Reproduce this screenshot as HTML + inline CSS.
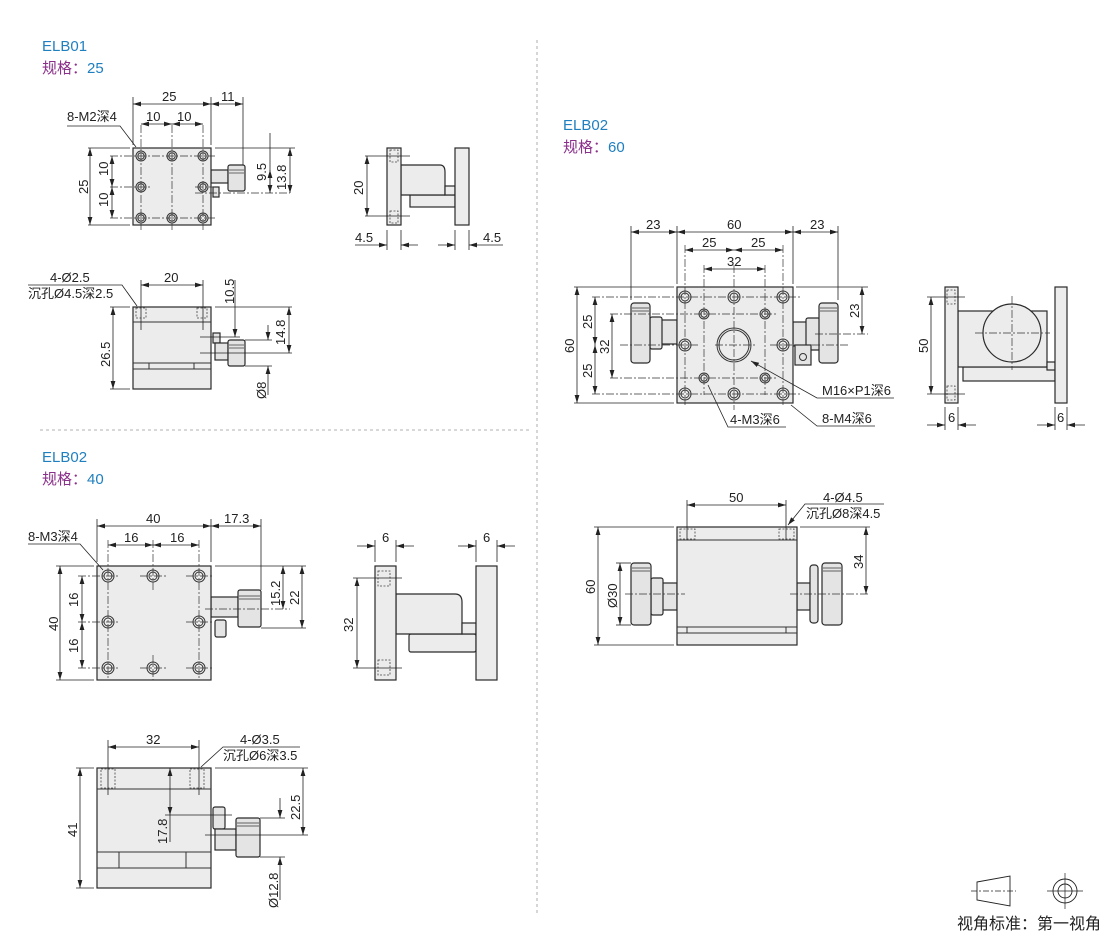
<!DOCTYPE html>
<html><head><meta charset="utf-8"><style>
html,body{margin:0;padding:0;background:#fff}
svg{display:block}
text{font-family:"Liberation Sans","Noto Sans CJK SC",sans-serif;fill:#222;font-size:13px}
.b{fill:#ececec;stroke:#2a2a2a;stroke-width:1.2}
.k{fill:#e4e4e4;stroke:#2a2a2a;stroke-width:1.2}
.d{stroke:#222;stroke-width:0.8;fill:none}
.a{stroke:#222;stroke-width:0.8;fill:none;marker-start:url(#ar);marker-end:url(#ar)}
.c{stroke:#333;stroke-width:0.7;fill:none}
.h{fill:none;stroke:#333;stroke-width:1}
.dot{fill:none;stroke:#444;stroke-width:0.8;stroke-dasharray:2 1.5}
.t1{fill:#1f7fbf;font-size:15px}
.t2{fill:#8a2f8a;font-size:15px}
</style></head><body>
<svg width="1110" height="933" viewBox="0 0 1110 933" xmlns="http://www.w3.org/2000/svg">
<defs>
<marker id="ar" viewBox="0 0 10 6" refX="10" refY="3" markerWidth="8" markerHeight="5" orient="auto-start-reverse" markerUnits="userSpaceOnUse"><path d="M0,0 L10,3 L0,6 z" fill="#222"/></marker>
<g id="hole"><circle r="5" class="h"/><circle r="3.2" class="h"/></g>
<g id="hole2"><circle r="6" class="h"/><circle r="4" class="h"/></g>
</defs>

<line x1="40" y1="430" x2="530" y2="430" stroke="#999" stroke-dasharray="3 3" stroke-width="0.8"/>
<line x1="537" y1="40" x2="537" y2="915" stroke="#999" stroke-dasharray="3 3" stroke-width="0.8"/>

<text x="42" y="51" class="t1">ELB01</text>
<text x="42" y="73" class="t2">规格：<tspan fill="#1f7fbf">25</tspan></text>
<text x="42" y="462" class="t1">ELB02</text>
<text x="42" y="484" class="t2">规格：<tspan fill="#1f7fbf">40</tspan></text>
<text x="563" y="130" class="t1">ELB02</text>
<text x="563" y="152" class="t2">规格：<tspan fill="#1f7fbf">60</tspan></text>

<!-- ELB01 top -->
<rect class="k" x="211" y="170" width="17" height="13"/>
<rect class="k" x="228" y="165" width="17" height="26" rx="2"/>
<line class="c" x1="229" y1="170" x2="244" y2="170"/><line class="c" x1="229" y1="173" x2="244" y2="173"/>
<rect class="k" x="213" y="187" width="6" height="10"/>
<rect class="b" x="133" y="148" width="78" height="77"/>
<use href="#hole" x="141" y="156"/><use href="#hole" x="172" y="156"/><use href="#hole" x="203" y="156"/>
<use href="#hole" x="141" y="187"/><use href="#hole" x="203" y="187"/>
<use href="#hole" x="141" y="218"/><use href="#hole" x="172" y="218"/><use href="#hole" x="203" y="218"/>
<g class="c" stroke-dasharray="8 2 2 2">
<line x1="110" y1="156" x2="215" y2="156"/><line x1="110" y1="187" x2="150" y2="187"/><line x1="110" y1="218" x2="215" y2="218"/>
<line x1="141" y1="125" x2="141" y2="230"/><line x1="172" y1="125" x2="172" y2="230"/><line x1="203" y1="125" x2="203" y2="230"/>
<line x1="195" y1="193" x2="290" y2="193"/><line x1="195" y1="187" x2="215" y2="187"/>
</g>
<g class="d"><line x1="133" y1="97" x2="133" y2="145"/><line x1="211" y1="97" x2="211" y2="145"/><line x1="243" y1="97" x2="243" y2="165"/>
<line x1="88" y1="148" x2="130" y2="148"/><line x1="88" y1="225" x2="130" y2="225"/><line x1="215" y1="148" x2="295" y2="148"/>
<polyline points="67,126 120,126 136,147"/></g>
<line class="a" x1="133" y1="104" x2="211" y2="104"/><line class="a" x1="211" y1="104" x2="243" y2="104"/>
<line class="a" x1="141" y1="124" x2="172" y2="124"/><line class="a" x1="172" y1="124" x2="203" y2="124"/>
<line class="a" x1="90" y1="148" x2="90" y2="225"/>
<line class="a" x1="112" y1="156" x2="112" y2="187"/><line class="a" x1="112" y1="187" x2="112" y2="218"/>
<line class="d" x1="270" y1="133" x2="270" y2="193"/><line class="a" x1="270" y1="170" x2="270" y2="193"/>
<line class="a" x1="290" y1="148" x2="290" y2="193"/>
<text x="162" y="101">25</text><text x="221" y="101">11</text>
<text x="146" y="121">10</text><text x="177" y="121">10</text>
<text x="67" y="121">8-M2深4</text>
<text transform="translate(88,194) rotate(-90)">25</text>
<text transform="translate(108,176) rotate(-90)">10</text><text transform="translate(108,207) rotate(-90)">10</text>
<text transform="translate(266,181) rotate(-90)">9.5</text>
<text transform="translate(286,190) rotate(-90)">13.8</text>

<!-- ELB01 side -->
<rect class="b" x="410" y="195" width="45" height="12"/>
<path class="b" d="M401,165 L440,165 Q445,165 445,172 L445,195 L401,195 Z"/>
<rect class="b" x="445" y="186" width="10" height="9"/>
<rect class="b" x="387" y="148" width="14" height="77"/>
<rect class="b" x="455" y="148" width="14" height="77"/>
<rect class="dot" x="390" y="150" width="8" height="12"/><rect class="dot" x="390" y="211" width="8" height="12"/>
<g class="d"><line x1="365" y1="156" x2="410" y2="156"/><line x1="365" y1="216" x2="410" y2="216"/>
<line x1="387" y1="230" x2="387" y2="250"/><line x1="401" y1="230" x2="401" y2="250"/>
<line x1="455" y1="230" x2="455" y2="250"/><line x1="469" y1="230" x2="469" y2="250"/>
<line x1="355" y1="245" x2="387" y2="245" marker-end="url(#ar)"/><line x1="418" y1="245" x2="401" y2="245" marker-end="url(#ar)"/>
<line x1="438" y1="245" x2="455" y2="245" marker-end="url(#ar)"/><line x1="503" y1="245" x2="469" y2="245" marker-end="url(#ar)"/></g>
<line class="a" x1="367" y1="156" x2="367" y2="216"/>
<text transform="translate(363,195) rotate(-90)">20</text>
<text x="355" y="242">4.5</text><text x="483" y="242">4.5</text>

<!-- ELB01 front -->
<rect class="k" x="213" y="333" width="7" height="10"/>
<rect class="k" x="215" y="343" width="13" height="17"/>
<rect class="k" x="228" y="340" width="17" height="26" rx="2"/>
<line class="c" x1="229" y1="345" x2="244" y2="345"/><line class="c" x1="229" y1="348" x2="244" y2="348"/>
<rect class="b" x="133" y="307" width="78" height="82"/>
<line class="h" x1="133" y1="322" x2="211" y2="322"/>
<line class="h" x1="133" y1="363" x2="211" y2="363"/><line class="h" x1="133" y1="369" x2="211" y2="369"/>
<line class="h" x1="149" y1="363" x2="149" y2="369"/><line class="h" x1="194" y1="363" x2="194" y2="369"/>
<rect class="dot" x="136" y="308" width="10" height="10"/><rect class="dot" x="197" y="308" width="10" height="10"/>
<g class="d"><line x1="141" y1="280" x2="141" y2="330"/><line x1="203" y1="280" x2="203" y2="330"/>
<line x1="110" y1="307" x2="130" y2="307"/><line x1="110" y1="389" x2="130" y2="389"/><line x1="215" y1="307" x2="292" y2="307"/>
<line x1="200" y1="337" x2="240" y2="337"/><line x1="200" y1="353" x2="292" y2="353"/><line x1="245" y1="340" x2="272" y2="340"/><line x1="245" y1="366" x2="272" y2="366"/>
<polyline points="28,285 122,285 137,306"/>
<line x1="235" y1="280" x2="235" y2="337" marker-end="url(#ar)"/>
<line x1="268" y1="325" x2="268" y2="340" marker-end="url(#ar)"/><line x1="268" y1="395" x2="268" y2="366" marker-end="url(#ar)"/></g>
<line class="a" x1="141" y1="285" x2="203" y2="285"/>
<line class="a" x1="113" y1="307" x2="113" y2="389"/>
<line class="a" x1="289" y1="307" x2="289" y2="353"/>
<text x="164" y="282">20</text>
<text x="50" y="282">4-Ø2.5</text><text x="28" y="298">沉孔Ø4.5深2.5</text>
<text transform="translate(110,367) rotate(-90)">26.5</text>
<text transform="translate(234,304) rotate(-90)">10.5</text>
<text transform="translate(285,345) rotate(-90)">14.8</text>
<text transform="translate(266,399) rotate(-90)">Ø8</text>

<!-- ELB02-40 top -->
<rect class="k" x="211" y="597" width="27" height="20"/>
<rect class="k" x="238" y="590" width="23" height="37" rx="2"/>
<line class="c" x1="239" y1="596" x2="260" y2="596"/><line class="c" x1="239" y1="599" x2="260" y2="599"/>
<rect class="k" x="215" y="620" width="11" height="17" rx="2"/>
<rect class="b" x="97" y="566" width="114" height="114"/>
<use href="#hole2" x="108" y="576"/><use href="#hole2" x="153" y="576"/><use href="#hole2" x="199" y="576"/>
<use href="#hole2" x="108" y="622"/><use href="#hole2" x="199" y="622"/>
<use href="#hole2" x="108" y="668"/><use href="#hole2" x="153" y="668"/><use href="#hole2" x="199" y="668"/>
<g class="c" stroke-dasharray="8 2 2 2">
<line x1="78" y1="576" x2="120" y2="576"/><line x1="140" y1="576" x2="166" y2="576"/><line x1="186" y1="576" x2="212" y2="576"/>
<line x1="78" y1="622" x2="120" y2="622"/><line x1="186" y1="622" x2="212" y2="622"/>
<line x1="78" y1="668" x2="120" y2="668"/><line x1="140" y1="668" x2="166" y2="668"/><line x1="186" y1="668" x2="212" y2="668"/>
<line x1="108" y1="540" x2="108" y2="680"/><line x1="153" y1="540" x2="153" y2="590"/><line x1="153" y1="655" x2="153" y2="680"/><line x1="199" y1="540" x2="199" y2="680"/>
<line x1="205" y1="609" x2="290" y2="609"/></g>
<g class="d"><line x1="97" y1="519" x2="97" y2="562"/><line x1="211" y1="519" x2="211" y2="562"/><line x1="261" y1="519" x2="261" y2="590"/>
<line x1="56" y1="566" x2="94" y2="566"/><line x1="56" y1="680" x2="94" y2="680"/><line x1="215" y1="566" x2="306" y2="566"/><line x1="261" y1="628" x2="306" y2="628"/>
<polyline points="28,544 80,544 103,570"/></g>
<line class="a" x1="97" y1="526" x2="211" y2="526"/><line class="a" x1="211" y1="526" x2="261" y2="526"/>
<line class="a" x1="108" y1="545" x2="153" y2="545"/><line class="a" x1="153" y1="545" x2="199" y2="545"/>
<line class="a" x1="60" y1="566" x2="60" y2="680"/>
<line class="a" x1="82" y1="576" x2="82" y2="622"/><line class="a" x1="82" y1="622" x2="82" y2="668"/>
<line class="a" x1="283" y1="566" x2="283" y2="609"/><line class="a" x1="302" y1="566" x2="302" y2="628"/>
<text x="146" y="523">40</text><text x="224" y="523">17.3</text>
<text x="124" y="542">16</text><text x="170" y="542">16</text>
<text x="28" y="541">8-M3深4</text>
<text transform="translate(58,631) rotate(-90)">40</text>
<text transform="translate(78,607) rotate(-90)">16</text><text transform="translate(78,653) rotate(-90)">16</text>
<text transform="translate(280,606) rotate(-90)">15.2</text>
<text transform="translate(299,605) rotate(-90)">22</text>

<!-- ELB02-40 side -->
<rect class="b" x="409" y="634" width="67" height="18" rx="2"/>
<path class="b" d="M396,594 L455,594 Q462,594 462,602 L462,634 L396,634 Z"/>
<rect class="b" x="462" y="623" width="14" height="11"/>
<rect class="b" x="375" y="566" width="21" height="114"/>
<rect class="b" x="476" y="566" width="21" height="114"/>
<rect class="dot" x="378" y="571" width="12" height="15"/><rect class="dot" x="378" y="660" width="12" height="15"/>
<g class="d"><line x1="353" y1="578" x2="402" y2="578"/><line x1="353" y1="668" x2="402" y2="668"/>
<line x1="375" y1="540" x2="375" y2="562"/><line x1="396" y1="540" x2="396" y2="562"/>
<line x1="476" y1="540" x2="476" y2="562"/><line x1="497" y1="540" x2="497" y2="562"/>
<line x1="357" y1="546" x2="375" y2="546" marker-end="url(#ar)"/><line x1="414" y1="546" x2="396" y2="546" marker-end="url(#ar)"/>
<line x1="458" y1="546" x2="476" y2="546" marker-end="url(#ar)"/><line x1="515" y1="546" x2="497" y2="546" marker-end="url(#ar)"/></g>
<line class="a" x1="357" y1="578" x2="357" y2="668"/>
<text transform="translate(353,632) rotate(-90)">32</text>
<text x="382" y="542">6</text><text x="483" y="542">6</text>

<!-- ELB02-40 front -->
<rect class="k" x="213" y="807" width="12" height="22" rx="2"/>
<rect class="k" x="215" y="829" width="21" height="21"/>
<rect class="k" x="236" y="818" width="24" height="39" rx="2"/>
<line class="c" x1="237" y1="823" x2="259" y2="823"/><line class="c" x1="237" y1="826" x2="259" y2="826"/>
<rect class="b" x="97" y="768" width="114" height="120"/>
<line class="h" x1="97" y1="789" x2="211" y2="789"/>
<line class="h" x1="97" y1="852" x2="211" y2="852"/><line class="h" x1="97" y1="868" x2="211" y2="868"/>
<line class="h" x1="119" y1="852" x2="119" y2="868"/><line class="h" x1="186" y1="852" x2="186" y2="868"/>
<rect class="dot" x="101" y="769" width="14" height="19"/><rect class="dot" x="190" y="769" width="14" height="19"/>
<g class="d"><line x1="108" y1="740" x2="108" y2="795"/><line x1="199" y1="740" x2="199" y2="795"/>
<line x1="76" y1="768" x2="94" y2="768"/><line x1="76" y1="888" x2="94" y2="888"/><line x1="215" y1="768" x2="308" y2="768"/>
<line x1="165" y1="815" x2="232" y2="815"/><line x1="205" y1="835" x2="308" y2="835"/><line x1="260" y1="818" x2="285" y2="818"/><line x1="260" y1="857" x2="285" y2="857"/>
<line x1="170" y1="842" x2="170" y2="815"/>
<polyline points="300,747 223,747 201,767"/>
<line x1="280" y1="798" x2="280" y2="818" marker-end="url(#ar)"/><line x1="280" y1="900" x2="280" y2="857" marker-end="url(#ar)"/></g>
<line class="a" x1="108" y1="747" x2="199" y2="747"/>
<line class="a" x1="80" y1="768" x2="80" y2="888"/>
<line class="a" x1="170" y1="768" x2="170" y2="815"/>
<line class="a" x1="303" y1="768" x2="303" y2="835"/>
<text x="146" y="744">32</text>
<text x="240" y="744">4-Ø3.5</text><text x="223" y="760">沉孔Ø6深3.5</text>
<text transform="translate(77,837) rotate(-90)">41</text>
<text transform="translate(167,844) rotate(-90)">17.8</text>
<text transform="translate(300,820) rotate(-90)">22.5</text>
<text transform="translate(278,908) rotate(-90)">Ø12.8</text>

<!-- ELB02-60 top -->
<rect class="k" x="660" y="320" width="17" height="24"/>
<rect class="k" x="650" y="317" width="12" height="32" rx="2"/>
<rect class="k" x="631" y="303" width="19" height="60" rx="3"/>
<line class="c" x1="632" y1="308" x2="649" y2="308"/><line class="c" x1="632" y1="311" x2="649" y2="311"/>
<rect class="k" x="793" y="322" width="14" height="24"/>
<rect class="k" x="806" y="318" width="14" height="32" rx="2"/>
<rect class="k" x="819" y="303" width="19" height="60" rx="3"/>
<line class="c" x1="820" y1="308" x2="837" y2="308"/><line class="c" x1="820" y1="311" x2="837" y2="311"/>
<rect class="k" x="795" y="345" width="16" height="20"/><circle cx="803" cy="357" r="3.5" class="h"/>
<rect class="b" x="677" y="287" width="116" height="116"/>
<use href="#hole2" x="685" y="297"/><use href="#hole2" x="734" y="297"/><use href="#hole2" x="783" y="297"/>
<use href="#hole2" x="685" y="345"/><use href="#hole2" x="783" y="345"/>
<use href="#hole2" x="685" y="394"/><use href="#hole2" x="734" y="394"/><use href="#hole2" x="783" y="394"/>
<use href="#hole" x="704" y="314"/><use href="#hole" x="765" y="314"/><use href="#hole" x="704" y="378"/><use href="#hole" x="765" y="378"/>
<circle cx="734" cy="345" r="17" class="h" stroke-width="1.2"/><circle cx="734" cy="345" r="15" class="h"/>
<g class="c" stroke-dasharray="8 2 2 2">
<line x1="620" y1="345" x2="700" y2="345"/><line x1="715" y1="345" x2="755" y2="345"/><line x1="770" y1="345" x2="850" y2="345"/>
<line x1="734" y1="265" x2="734" y2="410"/><line x1="685" y1="245" x2="685" y2="405"/><line x1="783" y1="245" x2="783" y2="405"/>
<line x1="704" y1="265" x2="704" y2="395"/><line x1="765" y1="265" x2="765" y2="395"/>
<line x1="592" y1="297" x2="800" y2="297"/><line x1="592" y1="394" x2="800" y2="394"/>
<line x1="610" y1="314" x2="778" y2="314"/><line x1="610" y1="378" x2="778" y2="378"/>
<line x1="815" y1="334" x2="868" y2="334"/></g>
<g class="d"><line x1="631" y1="226" x2="631" y2="300"/><line x1="677" y1="226" x2="677" y2="284"/><line x1="793" y1="226" x2="793" y2="284"/><line x1="838" y1="226" x2="838" y2="300"/>
<line x1="574" y1="287" x2="674" y2="287"/><line x1="574" y1="403" x2="674" y2="403"/><line x1="796" y1="287" x2="868" y2="287"/>
<polyline points="894,398 817,398 751,361" marker-end="url(#ar)"/>
<polyline points="875,426 817,426 791,405"/>
<polyline points="786,427 728,427 708,385"/></g>
<line class="a" x1="631" y1="232" x2="677" y2="232"/><line class="a" x1="677" y1="232" x2="793" y2="232"/><line class="a" x1="793" y1="232" x2="838" y2="232"/>
<line class="a" x1="685" y1="250" x2="734" y2="250"/><line class="a" x1="734" y1="250" x2="783" y2="250"/>
<line class="a" x1="704" y1="269" x2="765" y2="269"/>
<line class="a" x1="577" y1="287" x2="577" y2="403"/>
<line class="a" x1="595" y1="297" x2="595" y2="345"/><line class="a" x1="595" y1="345" x2="595" y2="394"/>
<line class="a" x1="612" y1="314" x2="612" y2="378"/>
<line class="a" x1="862" y1="287" x2="862" y2="334"/>
<text x="646" y="229">23</text><text x="727" y="229">60</text><text x="810" y="229">23</text>
<text x="702" y="247">25</text><text x="751" y="247">25</text><text x="727" y="266">32</text>
<text transform="translate(574,353) rotate(-90)">60</text>
<text transform="translate(592,329) rotate(-90)">25</text><text transform="translate(592,378) rotate(-90)">25</text>
<text transform="translate(609,354) rotate(-90)">32</text>
<text transform="translate(859,318) rotate(-90)">23</text>
<text x="822" y="395">M16×P1深6</text>
<text x="822" y="423">8-M4深6</text>
<text x="730" y="424">4-M3深6</text>

<!-- ELB02-60 side -->
<rect class="b" x="963" y="367" width="92" height="14"/>
<rect class="b" x="958" y="311" width="89" height="56"/>
<rect class="b" x="1047" y="362" width="8" height="8"/>
<circle cx="1012" cy="333" r="29" class="b"/>
<g class="c" stroke-dasharray="8 2 2 2"><line x1="975" y1="333" x2="1050" y2="333"/><line x1="1012" y1="296" x2="1012" y2="370"/></g>
<rect class="b" x="945" y="287" width="13" height="116"/>
<rect class="b" x="1055" y="287" width="12" height="116"/>
<rect class="dot" x="947" y="290" width="8" height="14"/><rect class="dot" x="947" y="386" width="8" height="14"/>
<g class="d"><line x1="927" y1="297" x2="965" y2="297"/><line x1="927" y1="394" x2="965" y2="394"/>
<line x1="945" y1="407" x2="945" y2="430"/><line x1="958" y1="407" x2="958" y2="430"/>
<line x1="1055" y1="407" x2="1055" y2="430"/><line x1="1067" y1="407" x2="1067" y2="430"/>
<line x1="927" y1="425" x2="945" y2="425" marker-end="url(#ar)"/><line x1="976" y1="425" x2="958" y2="425" marker-end="url(#ar)"/>
<line x1="1037" y1="425" x2="1055" y2="425" marker-end="url(#ar)"/><line x1="1085" y1="425" x2="1067" y2="425" marker-end="url(#ar)"/></g>
<line class="a" x1="931" y1="297" x2="931" y2="394"/>
<text transform="translate(928,353) rotate(-90)">50</text>
<text x="948" y="422">6</text><text x="1057" y="422">6</text>

<!-- ELB02-60 front -->
<rect class="k" x="661" y="583" width="16" height="27"/>
<rect class="k" x="651" y="578" width="12" height="37" rx="2"/>
<rect class="k" x="631" y="563" width="20" height="62" rx="3"/>
<line class="c" x1="632" y1="568" x2="650" y2="568"/><line class="c" x1="632" y1="571" x2="650" y2="571"/>
<rect class="k" x="797" y="583" width="13" height="27"/>
<rect class="k" x="810" y="565" width="8" height="58" rx="3"/>
<rect class="k" x="822" y="563" width="20" height="62" rx="3"/>
<line class="c" x1="823" y1="568" x2="841" y2="568"/><line class="c" x1="823" y1="571" x2="841" y2="571"/>
<rect class="b" x="677" y="527" width="120" height="118"/>
<line class="h" x1="677" y1="540" x2="797" y2="540"/>
<line class="h" x1="677" y1="627" x2="797" y2="627"/><line class="h" x1="677" y1="633" x2="797" y2="633"/>
<line class="h" x1="687" y1="627" x2="687" y2="633"/><line class="h" x1="786" y1="627" x2="786" y2="633"/>
<rect class="dot" x="680" y="529" width="15" height="10"/><rect class="dot" x="779" y="529" width="15" height="10"/>
<g class="d"><line x1="687" y1="500" x2="687" y2="540"/><line x1="786" y1="500" x2="786" y2="540"/>
<line x1="594" y1="527" x2="674" y2="527"/><line x1="594" y1="645" x2="674" y2="645"/><line x1="800" y1="527" x2="870" y2="527"/>
<line x1="616" y1="563" x2="631" y2="563"/><line x1="616" y1="625" x2="631" y2="625"/>
<polyline points="884,504 805,504 788,525" marker-end="url(#ar)"/></g>
<g class="c" stroke-dasharray="8 2 2 2"><line x1="625" y1="594" x2="685" y2="594"/><line x1="790" y1="594" x2="870" y2="594"/></g>
<line class="a" x1="687" y1="505" x2="786" y2="505"/>
<line class="a" x1="598" y1="527" x2="598" y2="645"/>
<line class="a" x1="620" y1="563" x2="620" y2="625"/>
<line class="a" x1="866" y1="527" x2="866" y2="594"/>
<text x="729" y="502">50</text>
<text x="823" y="502">4-Ø4.5</text><text x="806" y="518">沉孔Ø8深4.5</text>
<text transform="translate(595,594) rotate(-90)">60</text>
<text transform="translate(617,608) rotate(-90)">Ø30</text>
<text transform="translate(863,569) rotate(-90)">34</text>

<!-- projection symbol -->
<path d="M977,882 L1010,876 L1010,906 L977,900 Z" fill="none" stroke="#222" stroke-width="0.9"/>
<line x1="971" y1="891" x2="1016" y2="891" stroke="#222" stroke-width="0.7" stroke-dasharray="6 2 2 2"/>
<circle cx="1065" cy="891" r="12" fill="none" stroke="#222" stroke-width="0.9"/>
<circle cx="1065" cy="891" r="7" fill="none" stroke="#222" stroke-width="0.9"/>
<line x1="1047" y1="891" x2="1083" y2="891" stroke="#222" stroke-width="0.7"/>
<line x1="1065" y1="873" x2="1065" y2="909" stroke="#222" stroke-width="0.7"/>
<text x="957" y="929" style="font-size:16px">视角标准：第一视角</text>
</svg>
</body></html>
